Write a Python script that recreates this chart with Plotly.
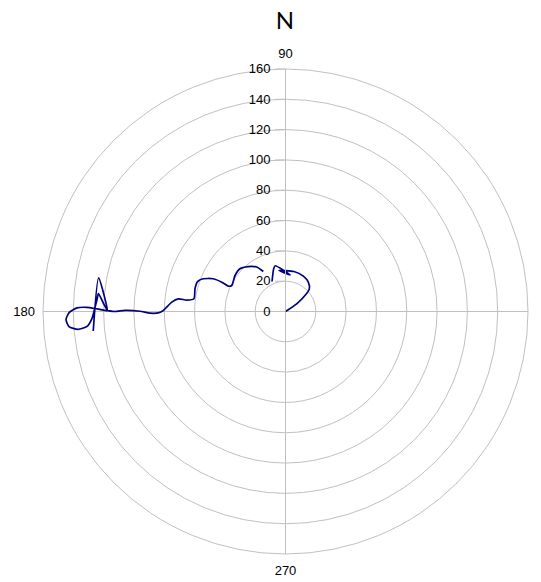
import plotly.graph_objects as go

# Track (theta in degrees, r in radial units); None marks the gap
theta_deg = [35, 34.5, 39.4, 43.6, 52.1, 63.2, 78.0, 99.0, 82.5, 102.6, 105.3, 114.2,
             None,
             119.0, 122.9, 129.6, 136.8, 144.5, 154.2, 156.1, 155.3, 155.6, 158.3, 161.2,
             165.7, 172.1, 173.4, 173.3, 175.3, 179.5, 180.6, 180.7, 179.9, 179.6, 180.0,
             179.7, 179.2, 178.8, 179.0, 180.3, 182.1, 184.0, 184.9, 184.3, 182.1, 179.3,
             176.4, 174.5, 177.8, 179.7, 169.8, 185.8]
r_vals = [0, 8.97, 16.6, 21.7, 24.5, 26.1, 27.0, 27.4, 24.3, 30.9, 29.4, 21.7,
          None,
          30.2, 35.0, 38.5, 41.2, 40.9, 39.4, 41.3, 46.3, 52.3, 58.4, 61.3,
          61.6, 61.0, 65.6, 71.2, 75.3, 80.6, 83.9, 89.4, 96.0, 105.9, 112.5,
          117.8, 124.4, 131.0, 137.6, 142.8, 144.9, 143.2, 137.4, 131.3, 127.8, 126.0,
          124.6, 124.0, 119.8, 117.4, 125.3, 127.5]

angular_ticks = [0, 90, 180, 270]
angular_labels = ["0", "90", "180", "270"]
radial_range = [0, 160]
radial_step = 20

GRID = "#c0c0c0"
FONT = "Liberation Sans, Arial, sans-serif"

fig = go.Figure()
fig.add_trace(go.Scatterpolar(
    r=r_vals, theta=theta_deg, mode="lines",
    line=dict(color="#000080", width=1.7, shape="spline", smoothing=0.6),
    connectgaps=False, showlegend=False, hoverinfo="skip",
))

fig.update_layout(
    width=541, height=582,
    margin=dict(l=35, r=21, t=61, b=36),
    paper_bgcolor="white",
    font=dict(family=FONT, size=13, color="#000000"),
    title=dict(text="N", x=0.512, xanchor="center", y=0.992, yanchor="top",
               yref="container",
               font=dict(family="Lato, Liberation Sans, sans-serif", size=24, color="#000000")),
    polar=dict(
        bgcolor="white",
        domain=dict(x=[0, 1], y=[0, 1]),
        angularaxis=dict(
            direction="counterclockwise", rotation=0,
            tickmode="array", tickvals=angular_ticks, ticktext=angular_labels,
            showgrid=True, gridcolor=GRID, gridwidth=1,
            showline=True, linecolor=GRID, linewidth=1,
            ticks="outside", ticklen=5, tickcolor="rgba(0,0,0,0)",
            tickfont=dict(family=FONT, size=13, color="#000000"),
        ),
        radialaxis=dict(
            range=radial_range, dtick=radial_step, tick0=0,
            angle=90, side="counterclockwise", tickangle=90,
            showgrid=True, gridcolor=GRID, gridwidth=1,
            showline=True, linecolor=GRID, linewidth=1,
            ticks="outside", ticklen=10, tickcolor=GRID,
            tickfont=dict(family=FONT, size=13, color="#000000"),
        ),
    ),
)

fig.write_html("out.html")
